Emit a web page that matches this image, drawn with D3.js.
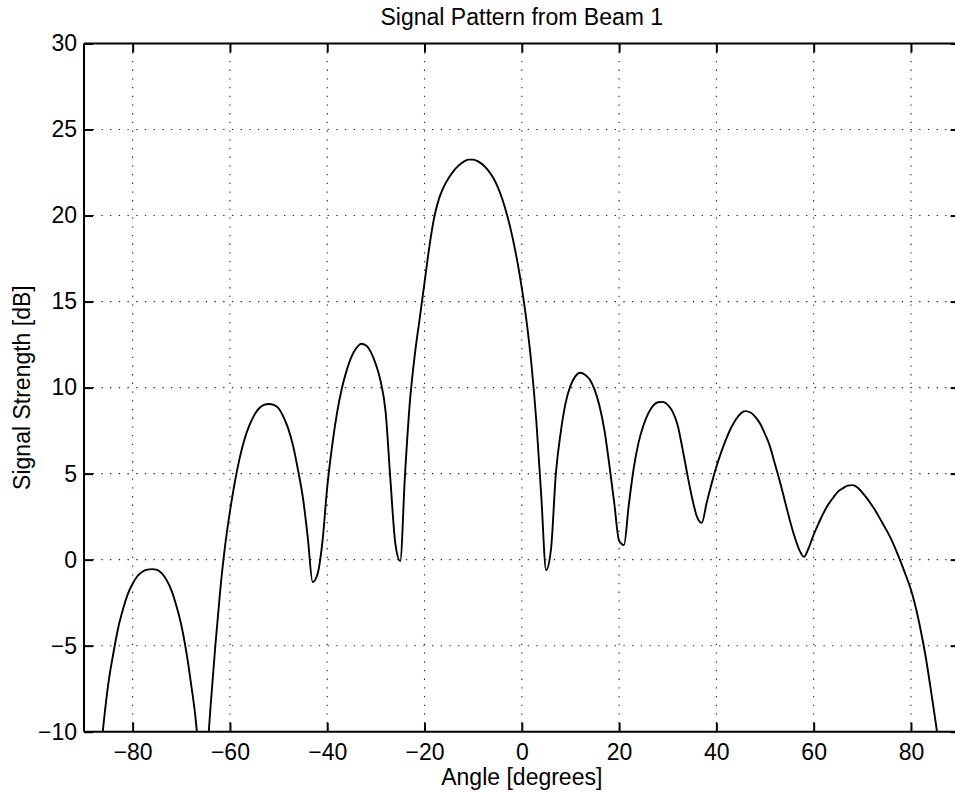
<!DOCTYPE html>
<html>
<head>
<meta charset="utf-8">
<script src="https://cdn.jsdelivr.net/npm/d3@7"></script>
<style>
  html, body { margin: 0; padding: 0; background: #fff; }
  svg { display: block; }
  text { font-family: "Liberation Sans", Arial, Helvetica, sans-serif; fill: #000; }
</style>
</head>
<body>
<svg id="chart" width="955" height="793"></svg>
<script>
// ---- data ----
const angles = [
  -87,-86,-85,-84,-83,-82,-81,-80,-79,-78,-77,-76,-75,-74,-73,-72,-71,-70,-69,-68,-67,-66,-65.5,-65,
  -64,-63,-62,-61,-60,-59,-58,-57,-56,-55,-54,-53,-52,-51,-50,-49,-48,-47,-46,-45,-44,-43,-42,
  -41,-40,-39,-38,-37,-36,-35,-34,-33,-32,-31,-30,-29,-28,-27,-26,-25,
  -24,-23,-22,-21,-20,-19,-18,-17,-16,-15,-14,-13,-12,-11,-10,-9,-8,-7,-6,-5,-4,-3,-2,-1,0,1,2,3,4,5,
  6,7,8,9,10,11,12,13,14,15,16,17,18,19,20,21,
  22,23,24,25,26,27,28,29,30,31,32,33,34,35,36,37,
  38,39,40,41,42,43,44,45,46,47,48,49,50,51,52,53,54,55,56,57,58,
  59,60,61,62,63,64,65,66,67,68,69,70,71,72,73,74,75,76,77,78,79,80,81,82,83,84,85,86,87
];
const signalDb = [
  -12.5,-9.6,-7.2,-5.5,-4.0,-2.9,-2.0,-1.4,-0.95,-0.7,-0.58,-0.55,-0.6,-0.8,-1.2,-1.8,-2.7,-3.8,-5.3,-7.2,-9.4,-13,-16,-13,
  -8.6,-5.0,-1.8,0.8,2.8,4.5,5.9,7.0,7.8,8.4,8.8,9.0,9.05,9.0,8.8,8.3,7.6,6.6,5.2,3.6,1.3,-1.3,-0.85,
  1.0,4.2,6.6,8.5,9.95,11.0,11.8,12.3,12.55,12.45,12.05,11.35,10.35,8.6,4.6,0.94,-0.08,
  5.0,9.2,11.9,14.0,16.1,18.2,19.9,21.0,21.7,22.2,22.6,22.9,23.12,23.25,23.25,23.15,22.95,22.65,22.25,21.7,20.95,20.0,18.85,17.45,15.8,13.8,11.3,8.0,3.7,-0.6,
  0.6,5.0,7.4,9.1,10.1,10.65,10.86,10.75,10.45,9.85,8.9,7.5,5.5,3.3,1.1,0.85,
  3.2,5.3,6.8,7.8,8.5,8.95,9.15,9.17,9.0,8.6,7.85,6.5,5.0,3.6,2.5,2.14,
  3.3,4.4,5.4,6.25,7.0,7.65,8.15,8.5,8.63,8.55,8.3,7.9,7.3,6.6,5.6,4.6,3.5,2.4,1.4,0.6,0.16,
  0.7,1.45,2.1,2.7,3.2,3.6,3.95,4.15,4.3,4.33,4.2,3.9,3.55,3.15,2.7,2.2,1.7,1.15,0.5,-0.2,-0.95,-1.75,-2.8,-4.1,-5.6,-7.4,-9.3,-11.3,-13.5
];
const xTicks = [-80,-60,-40,-20,0,20,40,60,80];
const yTicks = [-10,-5,0,5,10,15,20,25,30];
const xDomain = [-90, 90];
const yDomain = [-10, 30];
const titleText = "Signal Pattern from Beam 1";
const xLabel = "Angle [degrees]";
const yLabel = "Signal Strength [dB]";

// ---- layout ----
const svg = d3.select("#chart");
const L = 84, R = 959.6, T = 43.5, B = 731.7;
const x = d3.scaleLinear().domain(xDomain).range([L, R]);
const y = d3.scaleLinear().domain(yDomain).range([B, T]);
const fontSize = 23;

// clip
svg.append("defs").append("clipPath").attr("id", "plotclip")
  .append("rect").attr("x", L).attr("y", T).attr("width", R - L).attr("height", B - T);

// grid (dotted)
const grid = svg.append("g");
grid.selectAll("line.gx").data(xTicks).join("line")
  .attr("x1", d => x(d)).attr("x2", d => x(d))
  .attr("y1", T).attr("y2", B)
  .attr("stroke", "#222").attr("stroke-width", 1.1)
  .attr("stroke-dasharray", "1.3,7.4");
grid.selectAll("line.gy").data(yTicks.filter(d => d > yDomain[0] && d < yDomain[1])).join("line")
  .attr("x1", L).attr("x2", R)
  .attr("y1", d => y(d)).attr("y2", d => y(d))
  .attr("stroke", "#222").attr("stroke-width", 1.1)
  .attr("stroke-dasharray", "1.3,7.4");

// curve
const pts = angles.map((a, i) => [a, signalDb[i]]);
const line = d3.line().x(d => x(d[0])).y(d => y(d[1])).curve(d3.curveMonotoneX);
svg.append("path").datum(pts)
  .attr("clip-path", "url(#plotclip)")
  .attr("fill", "none").attr("stroke", "#000").attr("stroke-width", 1.9)
  .attr("stroke-linejoin", "round")
  .attr("d", line);

// axes
const fmt = d3.format("");
const axB = svg.append("g").attr("transform", `translate(0,${B})`)
  .call(d3.axisBottom(x).tickValues(xTicks).tickSize(-9).tickPadding(12).tickFormat(fmt));
const axT = svg.append("g").attr("transform", `translate(0,${T})`)
  .call(d3.axisTop(x).tickValues(xTicks).tickSize(-9).tickFormat(""));
const axL = svg.append("g").attr("transform", `translate(${L},0)`)
  .call(d3.axisLeft(y).tickValues(yTicks).tickSize(-9).tickPadding(7).tickFormat(fmt));
const axR = svg.append("g").attr("transform", `translate(${R},0)`)
  .call(d3.axisRight(y).tickValues(yTicks).tickSize(-9).tickFormat(""));
[axB, axT, axL, axR].forEach(g => {
  g.selectAll(".domain").attr("stroke", "#000").attr("stroke-width", 2);
  g.selectAll(".tick line").attr("stroke", "#000").attr("stroke-width", 2);
  g.selectAll("text").attr("font-size", fontSize)
    .attr("font-family", "'Liberation Sans', Arial, Helvetica, sans-serif").attr("fill", "#000");
});
axB.selectAll(".domain").attr("d", `M${L},0H${R}`);
axT.selectAll(".domain").attr("d", `M${L},0H${R}`);
axL.selectAll(".domain").attr("d", `M0,${B}V${T}`);
axR.selectAll(".domain").attr("d", `M0,${B}V${T}`);

// title and labels
svg.append("text").attr("x", (L + R) / 2).attr("y", 25)
  .attr("text-anchor", "middle").attr("font-size", fontSize).text(titleText);
svg.append("text").attr("x", (L + R) / 2).attr("y", 785)
  .attr("text-anchor", "middle").attr("font-size", fontSize).text(xLabel);
svg.append("text")
  .attr("transform", `translate(30,${(T + B) / 2}) rotate(-90)`)
  .attr("text-anchor", "middle").attr("font-size", fontSize).text(yLabel);
</script>
</body>
</html>
